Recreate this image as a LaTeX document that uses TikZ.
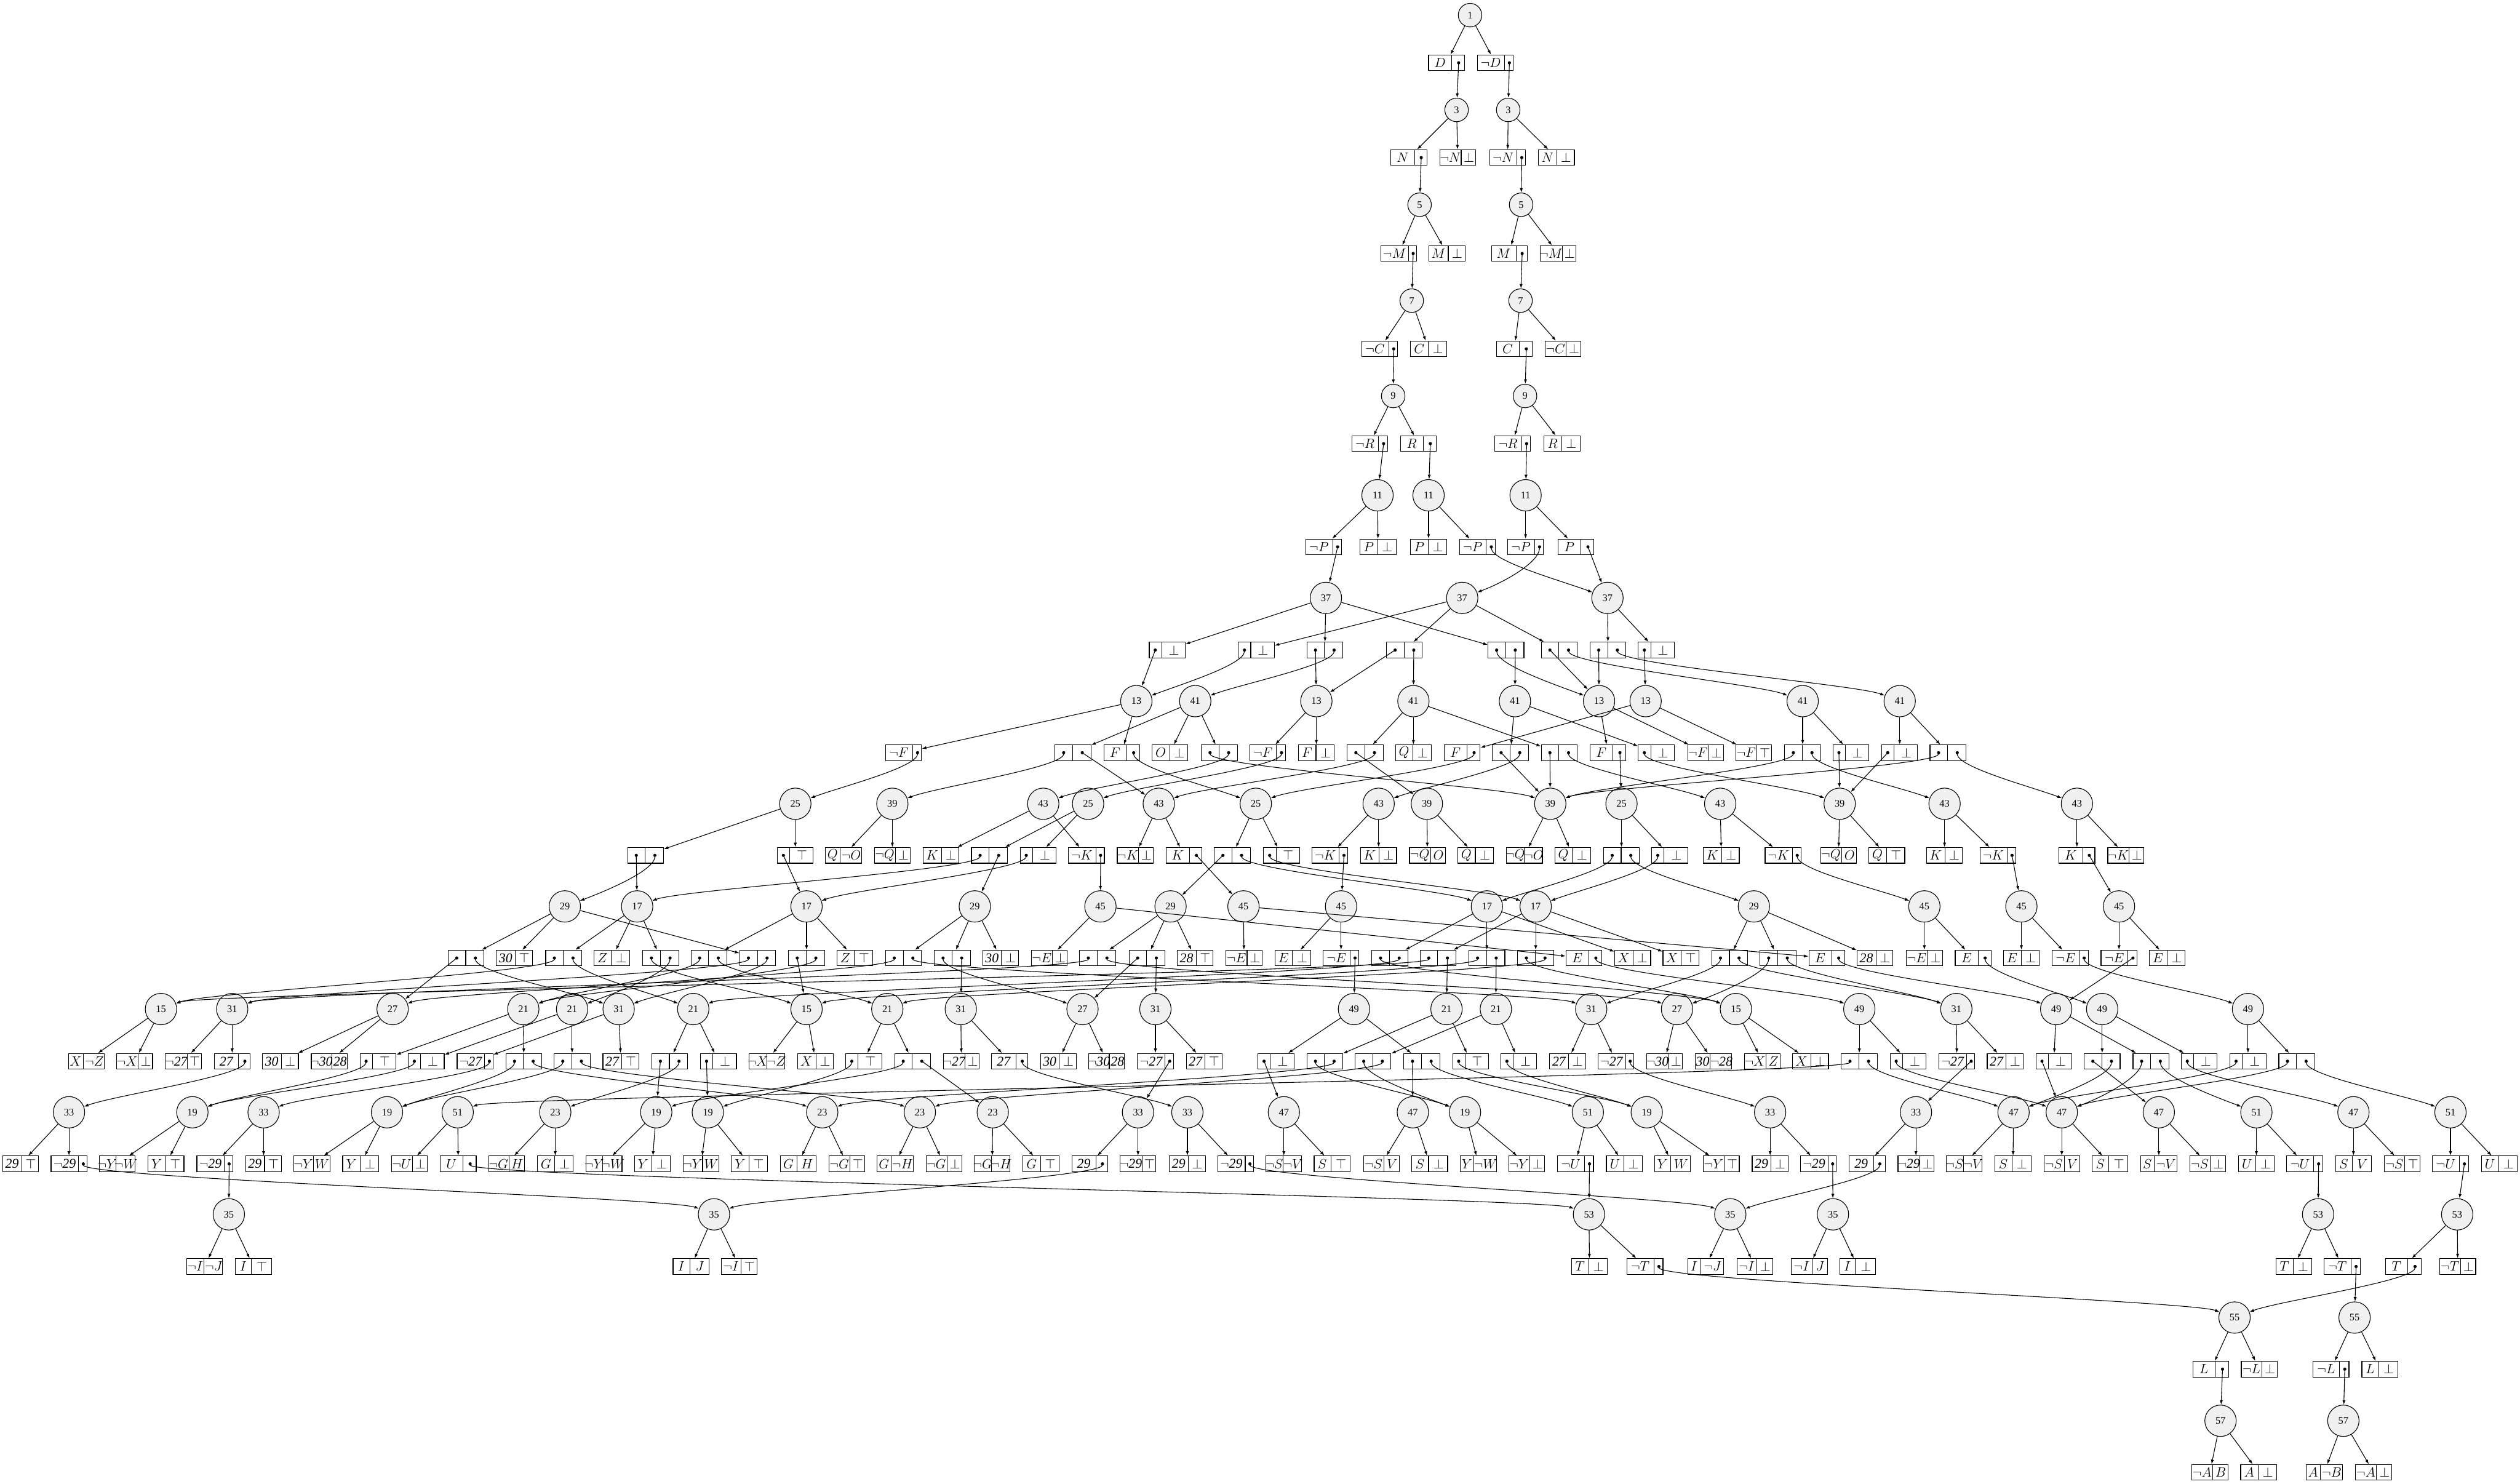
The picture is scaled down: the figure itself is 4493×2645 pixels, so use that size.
\documentclass[tikz,border=0pt]{standalone}
\usepackage{fontspec}
\setmainfont{Liberation Serif}
\usetikzlibrary{arrows.meta}

\newlength\recwa
\newlength\recwb
\newcommand\boxfont{\fontsize{12}{14}\selectfont}
\newcommand\numfont{\fontsize{9}{10}\selectfont}
% record box: name, position, left field, right field (empty field = pointer)
\newcommand{\rec}[4]{%
  \settowidth{\recwa}{\boxfont #3}%
  \settowidth{\recwb}{\boxfont #4}%
  \pgfmathsetmacro{\recsa}{\recwa+\recwb+16}%
  \pgfmathsetmacro{\recla}{\recsa<32 ? \recwa+8+(32-\recsa)/2 : 32*(\recwa+8)/\recsa}%
  \pgfmathsetmacro{\reclh}{\recla/2}%
  \pgfmathsetmacro{\reclr}{(32-\recla)/2}%
  \node[recbox] (#1) at (#2) {};
  \draw[recline] ([xshift=\recla pt]#1.north west) -- ([xshift=\recla pt]#1.south west);
  \node[celltxt] (#1l) at ([xshift=\reclh pt]#1.west) {#3};
  \node[celltxt] (#1r) at ([xshift=-\reclr pt]#1.east) {#4};
}

\begin{document}
\begin{tikzpicture}[
    x=0.5pt, y=-0.5pt,
    vnode/.style={circle, draw, line width=0.6pt, fill=black!6, minimum size=21pt, inner sep=1pt, font=\numfont},
    wnode/.style={vnode, minimum size=28pt},
    recbox/.style={draw, line width=0.6pt, minimum width=32pt, minimum height=14pt, inner sep=0pt},
    recline/.style={line width=0.6pt},
    celltxt/.style={inner sep=0pt, font=\boxfont},
    arr/.style={line width=0.6pt, -{Latex[length=4pt,width=2.8pt]}},
    ptr/.style={line width=0.6pt, {Circle[length=2.8pt]}-{Latex[length=4pt,width=2.8pt]}, shorten <=-1.4pt}
]
\useasboundingbox (0,0) rectangle (4493,2645);

% top chain
\node[vnode] (c1) at (2621,27) {1};
\rec{b1-1}{2579,112}{$D$}{}
\rec{b1-2}{2666,112}{$\neg D$}{}
\node[vnode] (c3a) at (2597,196) {3};
\node[vnode] (c3b) at (2689,196) {3};
\rec{b3-1}{2512,281}{$N$}{}
\rec{b3-2}{2599,281}{$\neg N$}{$\bot$}
\rec{b3-3}{2688,281}{$\neg N$}{}
\rec{b3-4}{2775,281}{$N$}{$\bot$}
\node[vnode] (c5a) at (2531,365) {5};
\node[vnode] (c5b) at (2712,365) {5};
\rec{b5-1}{2494,452}{$\neg M$}{}
\rec{b5-2}{2580,452}{$M$}{$\bot$}
\rec{b5-3}{2691,452}{$M$}{}
\rec{b5-4}{2778,452}{$\neg M$}{$\bot$}
\node[vnode] (c7a) at (2517,536) {7};
\node[vnode] (c7b) at (2711,536) {7};
\rec{b7-1}{2460,622}{$\neg C$}{}
\rec{b7-2}{2547,622}{$C$}{$\bot$}
\rec{b7-3}{2700,622}{$C$}{}
\rec{b7-4}{2787,622}{$\neg C$}{$\bot$}
\node[vnode] (c9a) at (2484,706) {9};
\node[vnode] (c9b) at (2719,706) {9};
\rec{b9-1}{2442,791}{$\neg R$}{}
\rec{b9-2}{2529,791}{$R$}{}
\rec{b9-3}{2697,791}{$\neg R$}{}
\rec{b9-4}{2785,791}{$R$}{$\bot$}
\node[wnode] (c11a) at (2456,883) {11};
\node[wnode] (c11b) at (2547,883) {11};
\node[wnode] (c11c) at (2720,883) {11};
\rec{b11-1}{2360,975}{$\neg P$}{}
\rec{b11-2}{2457,975}{$P$}{$\bot$}
\rec{b11-3}{2547,975}{$P$}{$\bot$}
\rec{b11-4}{2634,975}{$\neg P$}{}
\rec{b11-5}{2720,975}{$\neg P$}{}
\rec{b11-6}{2810,975}{$P$}{}
\node[wnode] (c37a) at (2364,1066) {37};
\node[wnode] (c37b) at (2607,1066) {37};
\node[wnode] (c37c) at (2866,1066) {37};

% rows 13--16
\rec{b13-1}{2081,1159}{}{$\bot$}
\rec{b13-2}{2240,1159}{}{$\bot$}
\rec{b13-3}{2362,1159}{}{}
\rec{b13-4}{2504,1159}{}{}
\rec{b13-5}{2685,1159}{}{}
\rec{b13-6}{2780,1159}{}{}
\rec{b13-7}{2867,1159}{}{}
\rec{b13-8}{2953,1159}{}{$\bot$}
\node[wnode] (c13a) at (2026,1250) {13};
\node[wnode] (c41a) at (2131,1250) {41};
\node[wnode] (c13b) at (2347,1250) {13};
\node[wnode] (c41b) at (2520,1250) {41};
\node[wnode] (c41c) at (2701,1250) {41};
\node[wnode] (c13c) at (2851,1250) {13};
\node[wnode] (c13d) at (2934,1250) {13};
\node[wnode] (c41d) at (3214,1250) {41};
\node[wnode] (c41e) at (3387,1250) {41};
\rec{b15-1}{1611,1342}{$\neg F$}{}
\rec{b15-2}{1913,1342}{}{}
\rec{b15-3}{2000,1342}{$F$}{}
\rec{b15-4}{2086,1342}{$O$}{$\bot$}
\rec{b15-5}{2174,1342}{}{}
\rec{b15-6}{2260,1342}{$\neg F$}{}
\rec{b15-7}{2347,1342}{$F$}{$\bot$}
\rec{b15-8}{2434,1342}{}{}
\rec{b15-9}{2520,1342}{$Q$}{$\bot$}
\rec{b15-10}{2607,1342}{$F$}{}
\rec{b15-11}{2693,1342}{}{}
\rec{b15-12}{2780,1342}{}{}
\rec{b15-13}{2867,1342}{$F$}{}
\rec{b15-14}{2953,1342}{}{$\bot$}
\rec{b15-15}{3041,1342}{$\neg F$}{$\bot$}
\rec{b15-16}{3127,1342}{$\neg F$}{$\top$}
\rec{b15-17}{3214,1342}{}{}
\rec{b15-18}{3300,1342}{}{$\bot$}
\rec{b15-19}{3387,1342}{}{$\bot$}
\rec{b15-20}{3473,1342}{}{}
\node[wnode] (c25a) at (1418,1433) {25};
\node[wnode] (c39a) at (1591,1433) {39};
\node[wnode] (c43a) at (1860,1433) {43};
\node[wnode] (c25b) at (1940,1433) {25};
\node[wnode] (c43b) at (2066,1433) {43};
\node[wnode] (c25c) at (2239,1433) {25};
\node[wnode] (c43c) at (2458,1433) {43};
\node[wnode] (c39b) at (2544,1433) {39};
\node[wnode] (c39c) at (2764,1433) {39};
\node[wnode] (c25d) at (2891,1433) {25};
\node[wnode] (c43d) at (3067,1433) {43};
\node[wnode] (c39d) at (3280,1433) {39};
\node[wnode] (c43e) at (3467,1433) {43};
\node[wnode] (c43f) at (3703,1433) {43};

% rows 17--20
\rec{b17-1}{1151,1525}{}{}
\rec{b17-2}{1418,1525}{}{$\top$}
\rec{b17-3}{1504,1525}{$Q$}{$\neg O$}
\rec{b17-4}{1591,1525}{$\neg Q$}{$\bot$}
\rec{b17-5}{1678,1525}{$K$}{$\bot$}
\rec{b17-6}{1764,1525}{}{}
\rec{b17-7}{1851,1525}{}{$\bot$}
\rec{b17-8}{1937,1525}{$\neg K$}{}
\rec{b17-9}{2024,1525}{$\neg K$}{$\bot$}
\rec{b17-10}{2111,1525}{$K$}{}
\rec{b17-11}{2197,1525}{}{}
\rec{b17-12}{2285,1525}{}{$\top$}
\rec{b17-13}{2371,1525}{$\neg K$}{}
\rec{b17-14}{2458,1525}{$K$}{$\bot$}
\rec{b17-15}{2545,1525}{$\neg Q$}{$O$}
\rec{b17-16}{2631,1525}{$Q$}{$\bot$}
\rec{b17-17}{2718,1525}{$\neg Q$}{$\neg O$}
\rec{b17-18}{2804,1525}{$Q$}{$\bot$}
\rec{b17-19}{2891,1525}{}{}
\rec{b17-20}{2977,1525}{}{$\bot$}
\rec{b17-21}{3069,1525}{$K$}{$\bot$}
\rec{b17-22}{3179,1525}{$\neg K$}{}
\rec{b17-23}{3278,1525}{$\neg Q$}{$O$}
\rec{b17-24}{3364,1525}{$Q$}{$\top$}
\rec{b17-25}{3467,1525}{$K$}{$\bot$}
\rec{b17-26}{3562,1525}{$\neg K$}{}
\rec{b17-27}{3703,1525}{$K$}{}
\rec{b17-28}{3790,1525}{$\neg K$}{$\bot$}
\node[wnode] (c29a) at (1007,1616) {29};
\node[wnode] (c17a) at (1136,1616) {17};
\node[wnode] (c17b) at (1438,1616) {17};
\node[wnode] (c29b) at (1738,1616) {29};
\node[wnode] (c45a) at (1962,1616) {45};
\node[wnode] (c29c) at (2087,1616) {29};
\node[wnode] (c45b) at (2217,1616) {45};
\node[wnode] (c45c) at (2391,1616) {45};
\node[wnode] (c17c) at (2651,1616) {17};
\node[wnode] (c17d) at (2738,1616) {17};
\node[wnode] (c29d) at (3127,1616) {29};
\node[wnode] (c45d) at (3431,1616) {45};
\node[wnode] (c45e) at (3604,1616) {45};
\node[wnode] (c45f) at (3778,1616) {45};
\rec{b19-1}{831,1708}{}{}
\rec{b19-2}{917,1708}{$\mathit{30}$}{$\top$}
\rec{b19-3}{1005,1708}{}{}
\rec{b19-4}{1091,1708}{$Z$}{$\bot$}
\rec{b19-5}{1178,1708}{}{}
\rec{b19-6}{1264,1708}{}{}
\rec{b19-7}{1351,1708}{}{}
\rec{b19-8}{1438,1708}{}{}
\rec{b19-9}{1524,1708}{$Z$}{$\top$}
\rec{b19-10}{1611,1708}{}{}
\rec{b19-11}{1698,1708}{}{}
\rec{b19-12}{1784,1708}{$\mathit{30}$}{$\bot$}
\rec{b19-13}{1871,1708}{$\neg E$}{$\bot$}
\rec{b19-14}{1957,1708}{}{}
\rec{b19-15}{2045,1708}{}{}
\rec{b19-16}{2131,1708}{$\mathit{28}$}{$\top$}
\rec{b19-17}{2218,1708}{$\neg E$}{$\bot$}
\rec{b19-18}{2305,1708}{$E$}{$\bot$}
\rec{b19-19}{2391,1708}{$\neg E$}{}
\rec{b19-20}{2478,1708}{}{}
\rec{b19-21}{2564,1708}{}{}
\rec{b19-22}{2651,1708}{}{}
\rec{b19-23}{2738,1708}{}{}
\rec{b19-24}{2824,1708}{$E$}{}
\rec{b19-25}{2911,1708}{$X$}{$\bot$}
\rec{b19-26}{2997,1708}{$X$}{$\top$}
\rec{b19-27}{3084,1708}{}{}
\rec{b19-28}{3170,1708}{}{}
\rec{b19-29}{3257,1708}{$E$}{}
\rec{b19-30}{3343,1708}{$\mathit{28}$}{$\bot$}
\rec{b19-31}{3431,1708}{$\neg E$}{$\bot$}
\rec{b19-32}{3518,1708}{$E$}{}
\rec{b19-33}{3604,1708}{$E$}{$\bot$}
\rec{b19-34}{3691,1708}{$\neg E$}{}
\rec{b19-35}{3778,1708}{$\neg E$}{}
\rec{b19-36}{3864,1708}{$E$}{$\bot$}
\node[wnode] (c15a) at (287,1799) {15};
\node[wnode] (c31a) at (414,1799) {31};
\node[wnode] (c27a) at (700,1799) {27};
\node[wnode] (c21a) at (933,1799) {21};
\node[wnode] (c21b) at (1020,1799) {21};
\node[wnode] (c31b) at (1103,1799) {31};
\node[wnode] (c21c) at (1236,1799) {21};
\node[wnode] (c15b) at (1438,1799) {15};
\node[wnode] (c21d) at (1582,1799) {21};
\node[wnode] (c31c) at (1713,1799) {31};
\node[wnode] (c27b) at (1930,1799) {27};
\node[wnode] (c31d) at (2060,1799) {31};
\node[wnode] (c49a) at (2414,1799) {49};
\node[wnode] (c21e) at (2579,1799) {21};
\node[wnode] (c21f) at (2667,1799) {21};
\node[wnode] (c31e) at (2837,1799) {31};
\node[wnode] (c27c) at (2990,1799) {27};
\node[wnode] (c15c) at (3095,1799) {15};
\node[wnode] (c49b) at (3315,1799) {49};
\node[wnode] (c31f) at (3488,1799) {31};
\node[wnode] (c49c) at (3666,1799) {49};
\node[wnode] (c49d) at (3748,1799) {49};
\node[wnode] (c49e) at (4008,1799) {49};

% rows 21--24
\rec{b21-1}{154,1892}{$X$}{$\neg Z$}
\rec{b21-2}{240,1892}{$\neg X$}{$\bot$}
\rec{b21-3}{327,1892}{$\neg\mathit{27}$}{$\top$}
\rec{b21-4}{414,1892}{$\mathit{27}$}{}
\rec{b21-5}{500,1892}{$\mathit{30}$}{$\bot$}
\rec{b21-6}{587,1892}{$\neg\mathit{30}$}{$\mathit{28}$}
\rec{b21-7}{674,1892}{}{$\top$}
\rec{b21-8}{760,1892}{}{$\bot$}
\rec{b21-9}{847,1892}{$\neg\mathit{27}$}{}
\rec{b21-10}{934,1892}{}{}
\rec{b21-11}{1020,1892}{}{}
\rec{b21-12}{1107,1892}{$\mathit{27}$}{$\top$}
\rec{b21-13}{1194,1892}{}{}
\rec{b21-14}{1281,1892}{}{$\bot$}
\rec{b21-15}{1367,1892}{$\neg X$}{$\neg Z$}
\rec{b21-16}{1454,1892}{$X$}{$\bot$}
\rec{b21-17}{1540,1892}{}{$\top$}
\rec{b21-18}{1627,1892}{}{}
\rec{b21-19}{1714,1892}{$\neg\mathit{27}$}{$\bot$}
\rec{b21-20}{1800,1892}{$\mathit{27}$}{}
\rec{b21-21}{1887,1892}{$\mathit{30}$}{$\bot$}
\rec{b21-22}{1973,1892}{$\neg\mathit{30}$}{$\mathit{28}$}
\rec{b21-23}{2060,1892}{$\neg\mathit{27}$}{}
\rec{b21-24}{2147,1892}{$\mathit{27}$}{$\top$}
\rec{b21-25}{2275,1892}{}{$\bot$}
\rec{b21-26}{2362,1892}{}{}
\rec{b21-27}{2448,1892}{}{}
\rec{b21-28}{2535,1892}{}{}
\rec{b21-29}{2622,1892}{}{$\top$}
\rec{b21-30}{2708,1892}{}{$\bot$}
\rec{b21-31}{2795,1892}{$\mathit{27}$}{$\bot$}
\rec{b21-32}{2881,1892}{$\neg\mathit{27}$}{}
\rec{b21-33}{2968,1892}{$\neg\mathit{30}$}{$\bot$}
\rec{b21-34}{3055,1892}{$\mathit{30}$}{$\neg\mathit{28}$}
\rec{b21-35}{3142,1892}{$\neg X$}{$Z$}
\rec{b21-36}{3228,1892}{$X$}{$\bot$}
\rec{b21-37}{3315,1892}{}{}
\rec{b21-38}{3402,1892}{}{$\bot$}
\rec{b21-39}{3489,1892}{$\neg\mathit{27}$}{}
\rec{b21-40}{3575,1892}{$\mathit{27}$}{$\bot$}
\rec{b21-41}{3662,1892}{}{$\bot$}
\rec{b21-42}{3748,1892}{}{}
\rec{b21-43}{3835,1892}{}{}
\rec{b21-44}{3921,1892}{}{$\bot$}
\rec{b21-45}{4008,1892}{}{$\bot$}
\rec{b21-46}{4095,1892}{}{}
\node[wnode] (c33a) at (123,1983) {33};
\node[wnode] (c19a) at (343,1983) {19};
\node[wnode] (c33b) at (470,1983) {33};
\node[wnode] (c19b) at (690,1983) {19};
\node[wnode] (c51a) at (816,1983) {51};
\node[wnode] (c23a) at (990,1983) {23};
\node[wnode] (c19c) at (1170,1983) {19};
\node[wnode] (c19d) at (1262,1983) {19};
\node[wnode] (c23b) at (1466,1983) {23};
\node[wnode] (c23c) at (1640,1983) {23};
\node[wnode] (c23d) at (1770,1983) {23};
\node[wnode] (c33c) at (2029,1983) {33};
\node[wnode] (c33d) at (2117,1983) {33};
\node[wnode] (c47a) at (2289,1983) {47};
\node[wnode] (c47b) at (2519,1983) {47};
\node[wnode] (c19e) at (2612,1983) {19};
\node[wnode] (c51b) at (2831,1983) {51};
\node[wnode] (c19f) at (2936,1983) {19};
\node[wnode] (c33e) at (3156,1983) {33};
\node[wnode] (c33f) at (3416,1983) {33};
\node[wnode] (c47c) at (3590,1983) {47};
\node[wnode] (c47d) at (3676,1983) {47};
\node[wnode] (c47e) at (3849,1983) {47};
\node[wnode] (c51c) at (4023,1983) {51};
\node[wnode] (c47f) at (4196,1983) {47};
\node[wnode] (c51d) at (4369,1983) {51};
\rec{b23-1}{37,2075}{$\mathit{29}$}{$\top$}
\rec{b23-2}{123,2075}{$\neg\mathit{29}$}{}
\rec{b23-3}{209,2075}{$\neg Y$}{$\neg W$}
\rec{b23-4}{296,2075}{$Y$}{$\top$}
\rec{b23-5}{383,2075}{$\neg\mathit{29}$}{}
\rec{b23-6}{470,2075}{$\mathit{29}$}{$\top$}
\rec{b23-7}{556,2075}{$\neg Y$}{$W$}
\rec{b23-8}{643,2075}{$Y$}{$\bot$}
\rec{b23-9}{730,2075}{$\neg U$}{$\bot$}
\rec{b23-10}{817,2075}{$U$}{}
\rec{b23-11}{903,2075}{$\neg G$}{$H$}
\rec{b23-12}{990,2075}{$G$}{$\bot$}
\rec{b23-13}{1077,2075}{$\neg Y$}{$\neg W$}
\rec{b23-14}{1163,2075}{$Y$}{$\bot$}
\rec{b23-15}{1250,2075}{$\neg Y$}{$W$}
\rec{b23-16}{1336,2075}{$Y$}{$\top$}
\rec{b23-17}{1423,2075}{$G$}{$H$}
\rec{b23-18}{1510,2075}{$\neg G$}{$\top$}
\rec{b23-19}{1596,2075}{$G$}{$\neg H$}
\rec{b23-20}{1683,2075}{$\neg G$}{$\bot$}
\rec{b23-21}{1769,2075}{$\neg G$}{$\neg H$}
\rec{b23-22}{1856,2075}{$G$}{$\top$}
\rec{b23-23}{1943,2075}{$\mathit{29}$}{}
\rec{b23-24}{2029,2075}{$\neg\mathit{29}$}{$\top$}
\rec{b23-25}{2117,2075}{$\mathit{29}$}{$\bot$}
\rec{b23-26}{2203,2075}{$\neg\mathit{29}$}{}
\rec{b23-27}{2289,2075}{$\neg S$}{$\neg V$}
\rec{b23-28}{2375,2075}{$S$}{$\top$}
\rec{b23-29}{2463,2075}{$\neg S$}{$V$}
\rec{b23-30}{2549,2075}{$S$}{$\bot$}
\rec{b23-31}{2636,2075}{$Y$}{$\neg W$}
\rec{b23-32}{2722,2075}{$\neg Y$}{$\bot$}
\rec{b23-33}{2809,2075}{$\neg U$}{}
\rec{b23-34}{2896,2075}{$U$}{$\bot$}
\rec{b23-35}{2982,2075}{$Y$}{$W$}
\rec{b23-36}{3069,2075}{$\neg Y$}{$\top$}
\rec{b23-37}{3156,2075}{$\mathit{29}$}{$\bot$}
\rec{b23-38}{3242,2075}{$\neg\mathit{29}$}{}
\rec{b23-39}{3329,2075}{$\mathit{29}$}{}
\rec{b23-40}{3416,2075}{$\neg\mathit{29}$}{$\bot$}
\rec{b23-41}{3502,2075}{$\neg S$}{$\neg V$}
\rec{b23-42}{3589,2075}{$S$}{$\bot$}
\rec{b23-43}{3676,2075}{$\neg S$}{$V$}
\rec{b23-44}{3762,2075}{$S$}{$\top$}
\rec{b23-45}{3849,2075}{$S$}{$\neg V$}
\rec{b23-46}{3936,2075}{$\neg S$}{$\bot$}
\rec{b23-47}{4023,2075}{$U$}{$\bot$}
\rec{b23-48}{4109,2075}{$\neg U$}{}
\rec{b23-49}{4196,2075}{$S$}{$V$}
\rec{b23-50}{4283,2075}{$\neg S$}{$\top$}
\rec{b23-51}{4369,2075}{$\neg U$}{}
\rec{b23-52}{4456,2075}{$U$}{$\bot$}
\node[wnode] (c35a) at (408,2165) {35};
\node[wnode] (c35b) at (1273,2165) {35};
\node[wnode] (c53a) at (2833,2165) {53};
\node[wnode] (c35c) at (3085,2165) {35};
\node[wnode] (c35d) at (3268,2165) {35};
\node[wnode] (c53b) at (4133,2165) {53};
\node[wnode] (c53c) at (4381,2165) {53};

% rows 25--29
\rec{b25-1}{365,2258}{$\neg I$}{$\neg J$}
\rec{b25-2}{452,2258}{$I$}{$\top$}
\rec{b25-3}{1232,2258}{$I$}{$J$}
\rec{b25-4}{1318,2258}{$\neg I$}{$\top$}
\rec{b25-5}{2834,2258}{$T$}{$\bot$}
\rec{b25-6}{2933,2258}{$\neg T$}{}
\rec{b25-7}{3041,2258}{$I$}{$\neg J$}
\rec{b25-8}{3129,2258}{$\neg I$}{$\bot$}
\rec{b25-9}{3226,2258}{$\neg I$}{$J$}
\rec{b25-10}{3312,2258}{$I$}{$\bot$}
\rec{b25-11}{4090,2258}{$T$}{$\bot$}
\rec{b25-12}{4176,2258}{$\neg T$}{}
\rec{b25-13}{4285,2258}{$T$}{}
\rec{b25-14}{4382,2258}{$\neg T$}{$\bot$}
\node[wnode] (c55a) at (3984,2349) {55};
\node[wnode] (c55b) at (4198,2349) {55};
\rec{b27-1}{3942,2441}{$L$}{}
\rec{b27-2}{4028,2441}{$\neg L$}{$\bot$}
\rec{b27-3}{4156,2441}{$\neg L$}{}
\rec{b27-4}{4243,2441}{$L$}{$\bot$}
\node[wnode] (c57a) at (3959,2533) {57};
\node[wnode] (c57b) at (4178,2533) {57};
\rec{b29-1}{3940,2625}{$\neg A$}{$B$}
\rec{b29-2}{4027,2625}{$A$}{$\bot$}
\rec{b29-3}{4144,2625}{$A$}{$\neg B$}
\rec{b29-4}{4232,2625}{$\neg A$}{$\bot$}

% variable node -> its records
\foreach \a/\b in {c1/b1-1, c1/b1-2, c3a/b3-1, c3a/b3-2, c3b/b3-3, c3b/b3-4,
    c5a/b5-1, c5a/b5-2, c5b/b5-3, c5b/b5-4, c7a/b7-1, c7a/b7-2, c7b/b7-3, c7b/b7-4,
    c9a/b9-1, c9a/b9-2, c9b/b9-3, c9b/b9-4, c11a/b11-1, c11a/b11-2, c11b/b11-3, c11b/b11-4,
    c11c/b11-5, c11c/b11-6,
    c37a/b13-1, c37a/b13-3, c37a/b13-5, c37b/b13-2, c37b/b13-4, c37b/b13-6, c37c/b13-7, c37c/b13-8,
    c13a/b15-1, c13a/b15-3, c41a/b15-2, c41a/b15-4, c41a/b15-5, c13b/b15-6, c13b/b15-7,
    c41b/b15-8, c41b/b15-9, c41b/b15-12, c41c/b15-11, c41c/b15-14, c13c/b15-13, c13c/b15-15,
    c13d/b15-10, c13d/b15-16, c41d/b15-17, c41d/b15-18, c41e/b15-19, c41e/b15-20,
    c25a/b17-1, c25a/b17-2, c39a/b17-3, c39a/b17-4, c43a/b17-5, c43a/b17-8, c25b/b17-6, c25b/b17-7,
    c43b/b17-9, c43b/b17-10, c25c/b17-11, c25c/b17-12, c43c/b17-13, c43c/b17-14,
    c39b/b17-15, c39b/b17-16, c39c/b17-17, c39c/b17-18, c25d/b17-19, c25d/b17-20,
    c43d/b17-21, c43d/b17-22, c39d/b17-23, c39d/b17-24, c43e/b17-25, c43e/b17-26,
    c43f/b17-27, c43f/b17-28,
    c29a/b19-1, c29a/b19-2, c29a/b19-7, c17a/b19-3, c17a/b19-4, c17a/b19-5,
    c17b/b19-6, c17b/b19-8, c17b/b19-9, c29b/b19-10, c29b/b19-11, c29b/b19-12,
    c45a/b19-13, c45a/b19-24, c29c/b19-14, c29c/b19-15, c29c/b19-16, c45b/b19-17, c45b/b19-29,
    c45c/b19-18, c45c/b19-19, c17c/b19-20, c17c/b19-22, c17c/b19-25, c17d/b19-21, c17d/b19-23,
    c17d/b19-26, c29d/b19-27, c29d/b19-28, c29d/b19-30, c45d/b19-31, c45d/b19-32,
    c45e/b19-33, c45e/b19-34, c45f/b19-35, c45f/b19-36,
    c15a/b21-1, c15a/b21-2, c31a/b21-3, c31a/b21-4, c27a/b21-5, c27a/b21-6, c21a/b21-7, c21a/b21-10,
    c21b/b21-8, c21b/b21-11, c31b/b21-9, c31b/b21-12, c21c/b21-13, c21c/b21-14, c15b/b21-15, c15b/b21-16,
    c21d/b21-17, c21d/b21-18, c31c/b21-19, c31c/b21-20, c27b/b21-21, c27b/b21-22, c31d/b21-23, c31d/b21-24,
    c49a/b21-25, c49a/b21-28, c21e/b21-26, c21e/b21-29, c21f/b21-27, c21f/b21-30, c31e/b21-31, c31e/b21-32,
    c27c/b21-33, c27c/b21-34, c15c/b21-35, c15c/b21-36, c49b/b21-37, c49b/b21-38, c31f/b21-39, c31f/b21-40,
    c49c/b21-41, c49c/b21-43, c49d/b21-42, c49d/b21-44, c49e/b21-45, c49e/b21-46,
    c33a/b23-1, c33a/b23-2, c19a/b23-3, c19a/b23-4, c33b/b23-5, c33b/b23-6, c19b/b23-7, c19b/b23-8,
    c51a/b23-9, c51a/b23-10, c23a/b23-11, c23a/b23-12, c19c/b23-13, c19c/b23-14, c19d/b23-15, c19d/b23-16,
    c23b/b23-17, c23b/b23-18, c23c/b23-19, c23c/b23-20, c23d/b23-21, c23d/b23-22, c33c/b23-23, c33c/b23-24,
    c33d/b23-25, c33d/b23-26, c47a/b23-27, c47a/b23-28, c47b/b23-29, c47b/b23-30, c19e/b23-31, c19e/b23-32,
    c51b/b23-33, c51b/b23-34, c19f/b23-35, c19f/b23-36, c33e/b23-37, c33e/b23-38, c33f/b23-39, c33f/b23-40,
    c47c/b23-41, c47c/b23-42, c47d/b23-43, c47d/b23-44, c47e/b23-45, c47e/b23-46, c51c/b23-47, c51c/b23-48,
    c47f/b23-49, c47f/b23-50, c51d/b23-51, c51d/b23-52,
    c35a/b25-1, c35a/b25-2, c35b/b25-3, c35b/b25-4, c53a/b25-5, c53a/b25-6, c35c/b25-7, c35c/b25-8,
    c35d/b25-9, c35d/b25-10, c53b/b25-11, c53b/b25-12, c53c/b25-13, c53c/b25-14,
    c55a/b27-1, c55a/b27-2, c55b/b27-3, c55b/b27-4, c57a/b29-1, c57a/b29-2, c57b/b29-3, c57b/b29-4}
  \draw[arr] (\a) -- (\b);

% pointer fields, short
\foreach \a/\b in {b1-1r/c3a, b1-2r/c3b, b3-1r/c5a, b3-3r/c5b, b5-1r/c7a, b5-3r/c7b,
    b7-1r/c9a, b7-3r/c9b, b9-1r/c11a, b9-2r/c11b, b9-3r/c11c, b11-1r/c37a, b11-6r/c37c,
    b13-1l/c13a, b13-3l/c13b, b13-4l/c13b, b13-4r/c41b, b13-5r/c41c, b13-6l/c13c, b13-7l/c13c, b13-8l/c13d,
    b15-2r/c43b, b15-8l/c39b, b15-11l/c39c, b15-12l/c39c, b15-13r/c25d, b15-18l/c39d, b15-19l/c39d,
    b17-1l/c17a, b17-2l/c17b, b17-6r/c29b, b17-8r/c45a, b17-10r/c45b, b17-11l/c29c, b17-13r/c45c,
    b17-26r/c45e, b17-27r/c45f,
    b19-1l/c27a, b19-8l/c15b, b19-11r/c31c, b19-15l/c27b, b19-15r/c31d, b19-19r/c49a, b19-21r/c21e,
    b19-22r/c21f, b19-35r/c49c,
    b21-13l/c19c, b21-14l/c19d, b21-18r/c23d, b21-23r/c33c, b21-25l/c47a, b21-28l/c47b, b21-39r/c33f,
    b21-41l/c47d, b21-42l/c47e,
    b23-5r/c35a, b23-33r/c53a, b23-38r/c35d, b23-48r/c53b, b23-51r/c53c,
    b25-12r/c55b, b27-1r/c57a, b27-3r/c57b}
  \draw[ptr] (\a.center) -- (\b);

% pointer fields, target to the left
\foreach \a/\b in {b11-5r/c37b, b13-2l/c13a, b13-3r/c41a,
    b15-1r/c25a, b15-2l/c39a, b15-5r/c43a, b15-6r/c25b, b15-8r/c43b, b15-10r/c25c, b15-11r/c43c,
    b15-17l/c39c, b15-20l/c39c,
    b17-1r/c29a, b17-6l/c17a, b17-7l/c17b, b17-19l/c17c, b17-20l/c17d,
    b19-3l/c15a, b19-5r/c21b, b19-6l/c21a, b19-7l/c31a, b19-7r/c31b, b19-8r/c21a, b19-10l/c27a,
    b19-14l/c31a, b19-20r/c21c, b19-21l/c15a, b19-22l/c15b, b19-23r/c21d, b19-27l/c31e, b19-28l/c27c,
    b21-4r/c33a, b21-7l/c19a, b21-8l/c19a, b21-9r/c33b, b21-10l/c19b, b21-11l/c19b, b21-13r/c23a,
    b21-17l/c19d, b21-18l/c19c, b21-26r/c23b, b21-27r/c23c, b21-37l/c51a, b21-42r/c47c,
    b21-43l/c47d, b21-45l/c47c, b21-46l/c47d,
    b23-23r/c35b, b23-39r/c35c, b25-13r/c55a}
  \draw[ptr] (\a.center) .. controls +(0,26) and +(80,-30) .. (\b);

% pointer fields, target to the right
\foreach \a/\b in {b11-4r/c37c, b13-5l/c13c, b13-6r/c41d, b13-7r/c41e,
    b15-3r/c25c, b15-5l/c39c, b15-12r/c43d, b15-14l/c39d, b15-17r/c43e, b15-20r/c43f,
    b17-11r/c17c, b17-12l/c17d, b17-19r/c29d, b17-22r/c45d,
    b19-1r/c31b, b19-3r/c21c, b19-5l/c15b, b19-6r/c21d, b19-10r/c31e, b19-11l/c27b, b19-14r/c27c,
    b19-20l/c15c, b19-23l/c15c, b19-24r/c49b, b19-27r/c31f, b19-28r/c31f, b19-29r/c49c,
    b19-32r/c49d, b19-34r/c49e,
    b21-10r/c23b, b21-11r/c23c, b21-20r/c33d, b21-26l/c19e, b21-27l/c19e, b21-28r/c51b,
    b21-29l/c19f, b21-30l/c19f, b21-32r/c33e, b21-37r/c47c, b21-38l/c47d, b21-43r/c51c,
    b21-44l/c47f, b21-46r/c51d,
    b23-2r/c35b, b23-10r/c53a, b23-26r/c35c, b25-6r/c55a}
  \draw[ptr] (\a.center) .. controls +(0,26) and +(-80,-30) .. (\b);
\end{tikzpicture}
\end{document}
